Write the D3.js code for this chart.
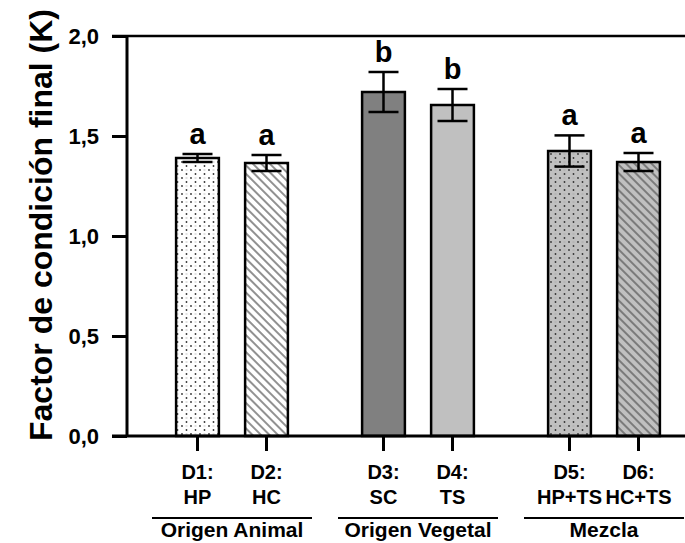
<!DOCTYPE html>
<html>
<head>
<meta charset="utf-8">
<script src="https://cdn.jsdelivr.net/npm/d3@7"></script>
<style>
  body { margin: 0; background: #fff; }
  text { font-family: "Liberation Sans", Arial, sans-serif; font-weight: bold; fill: #000; }
</style>
</head>
<body>
<script>
// data
var codes = ["D1", "D2", "D3", "D4", "D5", "D6"];
var diets = ["HP", "HC", "SC", "TS", "HP+TS", "HC+TS"];
var groupOf = ["Origen Animal", "Origen Animal", "Origen Vegetal", "Origen Vegetal", "Mezcla", "Mezcla"];
var groupNames = ["Origen Animal", "Origen Vegetal", "Mezcla"];
var means = [1.39, 1.365, 1.72, 1.655, 1.425, 1.37];
var errors = [0.02, 0.04, 0.10, 0.08, 0.078, 0.045];
var letters = ["a", "a", "b", "b", "a", "a"];
var yTicks = [0, 0.5, 1.0, 1.5, 2.0];

var w = 685, h = 543;

// fill style for each bar
var fills = ["url(#dotsWhite)", "url(#hatchWhite)", "#808080", "#c0c0c0", "url(#dotsGray)", "url(#hatchGray)"];

var svg = d3.select("body").append("svg")
    .attr("width", w)
    .attr("height", h);

// patterns
var defs = svg.append("defs");
function dots(id, bg) {
    var p = defs.append("pattern").attr("id", id)
        .attr("patternUnits", "userSpaceOnUse")
        .attr("width", 9).attr("height", 8);
    p.append("rect").attr("width", 9).attr("height", 8).attr("fill", bg);
    p.append("circle").attr("cx", 2).attr("cy", 2).attr("r", 0.9).attr("fill", "#333");
    p.append("circle").attr("cx", 6.5).attr("cy", 6).attr("r", 0.9).attr("fill", "#333");
    p.append("line").attr("x1", 5.5).attr("x2", 7.5).attr("y1", 2).attr("y2", 2)
        .attr("stroke", "#999").attr("stroke-width", 0.6);
}
function hatch(id, bg) {
    var p = defs.append("pattern").attr("id", id)
        .attr("patternUnits", "userSpaceOnUse")
        .attr("width", 6).attr("height", 6)
        .attr("patternTransform", "rotate(45)");
    p.append("rect").attr("width", 6).attr("height", 6).attr("fill", bg);
    p.append("line").attr("x1", 0).attr("x2", 6).attr("y1", 3).attr("y2", 3)
        .attr("stroke", "#555").attr("stroke-width", 1.3);
}
dots("dotsWhite", "#fff");
dots("dotsGray", "#c0c0c0");
hatch("hatchWhite", "#fff");
hatch("hatchGray", "#c0c0c0");

var y = d3.scaleLinear().domain([0, 2]).range([436, 36]);

var x0 = d3.scaleBand().domain(groupNames)
    .range([139, 697])
    .paddingInner(0.258)
    .paddingOuter(0.129);

var x1 = d3.scaleBand().domain([0, 1])
    .range([0, x0.bandwidth()])
    .paddingInner(0.38)
    .paddingOuter(0.19);

var data = codes.map(function(c, i) {
    return { code: c, diet: diets[i], group: groupOf[i], mean: means[i], err: errors[i],
             letter: letters[i], fill: fills[i], idx: i % 2 };
});

function barX(d) { return x0(d.group) + x1(d.idx); }
function barC(d) { return barX(d) + x1.bandwidth() / 2; }

// top frame line
svg.append("line")
    .attr("x1", 112).attr("x2", w)
    .attr("y1", y(2)).attr("y2", y(2))
    .attr("stroke", "#000").attr("stroke-width", 2.5);

// bars
svg.selectAll("rect.bar").data(data).enter().append("rect")
    .attr("class", "bar")
    .attr("x", barX)
    .attr("width", x1.bandwidth())
    .attr("y", function(d) { return y(d.mean); })
    .attr("height", function(d) { return y(0) - y(d.mean); })
    .attr("fill", function(d) { return d.fill; })
    .attr("stroke", "#000")
    .attr("stroke-width", 2.5);

// error bars
var eb = svg.selectAll("g.err").data(data).enter().append("g").attr("class", "err")
    .attr("stroke", "#000").attr("stroke-width", 2.5);
eb.append("line")
    .attr("x1", barC).attr("x2", barC)
    .attr("y1", function(d) { return y(d.mean + d.err); })
    .attr("y2", function(d) { return y(d.mean - d.err); });
eb.append("line")
    .attr("x1", function(d) { return barC(d) - 15; })
    .attr("x2", function(d) { return barC(d) + 15; })
    .attr("y1", function(d) { return y(d.mean + d.err); })
    .attr("y2", function(d) { return y(d.mean + d.err); });
eb.append("line")
    .attr("x1", function(d) { return barC(d) - 15; })
    .attr("x2", function(d) { return barC(d) + 15; })
    .attr("y1", function(d) { return y(d.mean - d.err); })
    .attr("y2", function(d) { return y(d.mean - d.err); });

// significance letters
svg.selectAll("text.sig").data(data).enter().append("text")
    .attr("class", "sig")
    .attr("x", barC)
    .attr("y", function(d) { return y(d.mean + d.err) - 10; })
    .attr("text-anchor", "middle")
    .style("font-size", "29px")
    .text(function(d) { return d.letter; });

// y axis
var yAxis = d3.axisLeft(y).tickValues(yTicks)
    .tickSize(15).tickPadding(13)
    .tickFormat(function(d) { return d3.format(".1f")(d).replace(".", ","); });
var gy = svg.append("g").attr("transform", "translate(127,0)").call(yAxis);
gy.select(".domain").remove();
gy.append("line").attr("x1", 0).attr("x2", 0).attr("y1", y(2)).attr("y2", y(0))
    .attr("stroke", "#000").attr("stroke-width", 3);
gy.selectAll(".tick line").attr("stroke", "#000").attr("stroke-width", 3);
gy.selectAll(".tick text").style("font-size", "22px").attr("fill", "#000");

// x axis
svg.append("line")
    .attr("x1", 112).attr("x2", w)
    .attr("y1", y(0)).attr("y2", y(0))
    .attr("stroke", "#000").attr("stroke-width", 3);
svg.selectAll("line.xtick").data(data).enter().append("line")
    .attr("class", "xtick")
    .attr("x1", barC).attr("x2", barC)
    .attr("y1", y(0)).attr("y2", y(0) + 15)
    .attr("stroke", "#000").attr("stroke-width", 3);

var xl = svg.selectAll("text.xl").data(data).enter().append("text")
    .attr("class", "xl")
    .attr("text-anchor", "middle")
    .style("font-size", "20px");
xl.append("tspan").attr("x", barC).attr("y", 479).text(function(d) { return d.code + ":"; });
xl.append("tspan").attr("x", barC).attr("y", 504).text(function(d) { return d.diet; });

// group labels
var gg = svg.selectAll("g.grp").data(groupNames).enter().append("g").attr("class", "grp");
gg.append("line")
    .attr("x1", function(d) { return x0(d) + x0.bandwidth() / 2 - 80; })
    .attr("x2", function(d) { return x0(d) + x0.bandwidth() / 2 + 80; })
    .attr("y1", 518).attr("y2", 518)
    .attr("stroke", "#000").attr("stroke-width", 2);
gg.append("text")
    .attr("x", function(d) { return x0(d) + x0.bandwidth() / 2; })
    .attr("y", 537)
    .attr("text-anchor", "middle")
    .style("font-size", "21px")
    .text(function(d) { return d; });

// y label
svg.append("text")
    .attr("transform", "translate(52,225) rotate(-90)")
    .attr("text-anchor", "middle")
    .style("font-size", "32px")
    .text("Factor de condición final (K)");
</script>
</body>
</html>
